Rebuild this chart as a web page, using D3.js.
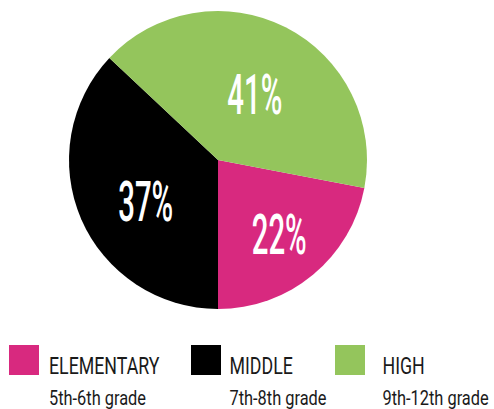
<!DOCTYPE html>
<html>
<head>
<meta charset="utf-8">
<script src="https://cdn.jsdelivr.net/npm/d3@7"></script>
<style>
  html, body { margin: 0; padding: 0; background: #fff; }
  svg { display: block; }
</style>
</head>
<body>
<svg id="chart" width="494" height="409"></svg>
<script>
// School levels and their share of students
const levels = ["ELEMENTARY", "MIDDLE", "HIGH"];
const grades = ["5th-6th grade", "7th-8th grade", "9th-12th grade"];
const shares = [22, 37, 41];
const colors = ["#d8297f", "#000000", "#94c55c"];

const svg = d3.select("#chart");
const cx = 218, cy = 160, radius = 149;

// Slices run clockwise; the first slice ends at six o'clock.
const total = d3.sum(shares);
const start = Math.PI - (shares[0] / total) * 2 * Math.PI;
const pie = d3.pie().sort(null).value(d => d)
  .startAngle(start).endAngle(start + 2 * Math.PI);
const arcs = pie(shares);
const arc = d3.arc().innerRadius(0).outerRadius(radius);

const g = svg.append("g").attr("transform", `translate(${cx},${cy})`);
g.selectAll("path.slice")
  .data(arcs)
  .join("path")
  .attr("class", "slice")
  .attr("d", arc)
  .attr("fill", (d, i) => colors[i]);

// Percent labels, placed along each slice's middle angle
const labelRadius = [96, 83, 76];
const labelTurn = [0, -6, 2]; // degrees
const fmt = d => `${d}%`;
const capH = 40;
g.selectAll("text.pct")
  .data(arcs)
  .join("text")
  .attr("class", "pct")
  .each(function (d, i) {
    const a = (d.startAngle + d.endAngle) / 2 + labelTurn[i] * Math.PI / 180;
    const [x, y] = d3.pointRadial(a, labelRadius[i]);
    d3.select(this)
      .attr("x", x)
      .attr("y", y + capH / 2)
      .attr("text-anchor", "middle")
      .attr("font-family", "Roboto, 'Liberation Sans', sans-serif")
      .attr("font-weight", 500)
      .attr("font-size", 56)
      .attr("fill", "#fff")
      .attr("textLength", 55)
      .attr("lengthAdjust", "spacingAndGlyphs")
      .text(fmt(d.data));
  });

// Legend
const swatchX = [9, 191, 335];
const textX = [49, 229.5, 382.5];
const legend = svg.append("g");
const items = legend.selectAll("g.item")
  .data(levels)
  .join("g")
  .attr("class", "item");

items.append("rect")
  .attr("x", (d, i) => swatchX[i])
  .attr("y", 345)
  .attr("width", 30)
  .attr("height", 30)
  .attr("fill", (d, i) => colors[i]);

const titleFont = "Roboto, 'Noto Sans', sans-serif";
const titles = items.append("text")
  .attr("x", (d, i) => textX[i])
  .attr("y", 374)
  .attr("font-family", titleFont)
  .attr("font-weight", 400)
  .attr("font-size", 24)
  .attr("fill", "#1a1a1a")
  .text(d => d);

const subs = items.append("text")
  .attr("x", (d, i) => textX[i])
  .attr("y", 404.5)
  .attr("font-family", titleFont)
  .attr("font-weight", 400)
  .attr("font-size", 20.5)
  .attr("fill", "#1a1a1a")
  .text((d, i) => grades[i]);

// Condense the legend type to the narrow face's proportions
function condense(sel, targetFirst) {
  const w = sel.nodes()[0].getComputedTextLength();
  const k = targetFirst / w;
  sel.attr("textLength", function () { return this.getComputedTextLength() * k; })
     .attr("lengthAdjust", "spacingAndGlyphs");
}
condense(titles, 110.5);
condense(subs, 97);
</script>
</body>
</html>
